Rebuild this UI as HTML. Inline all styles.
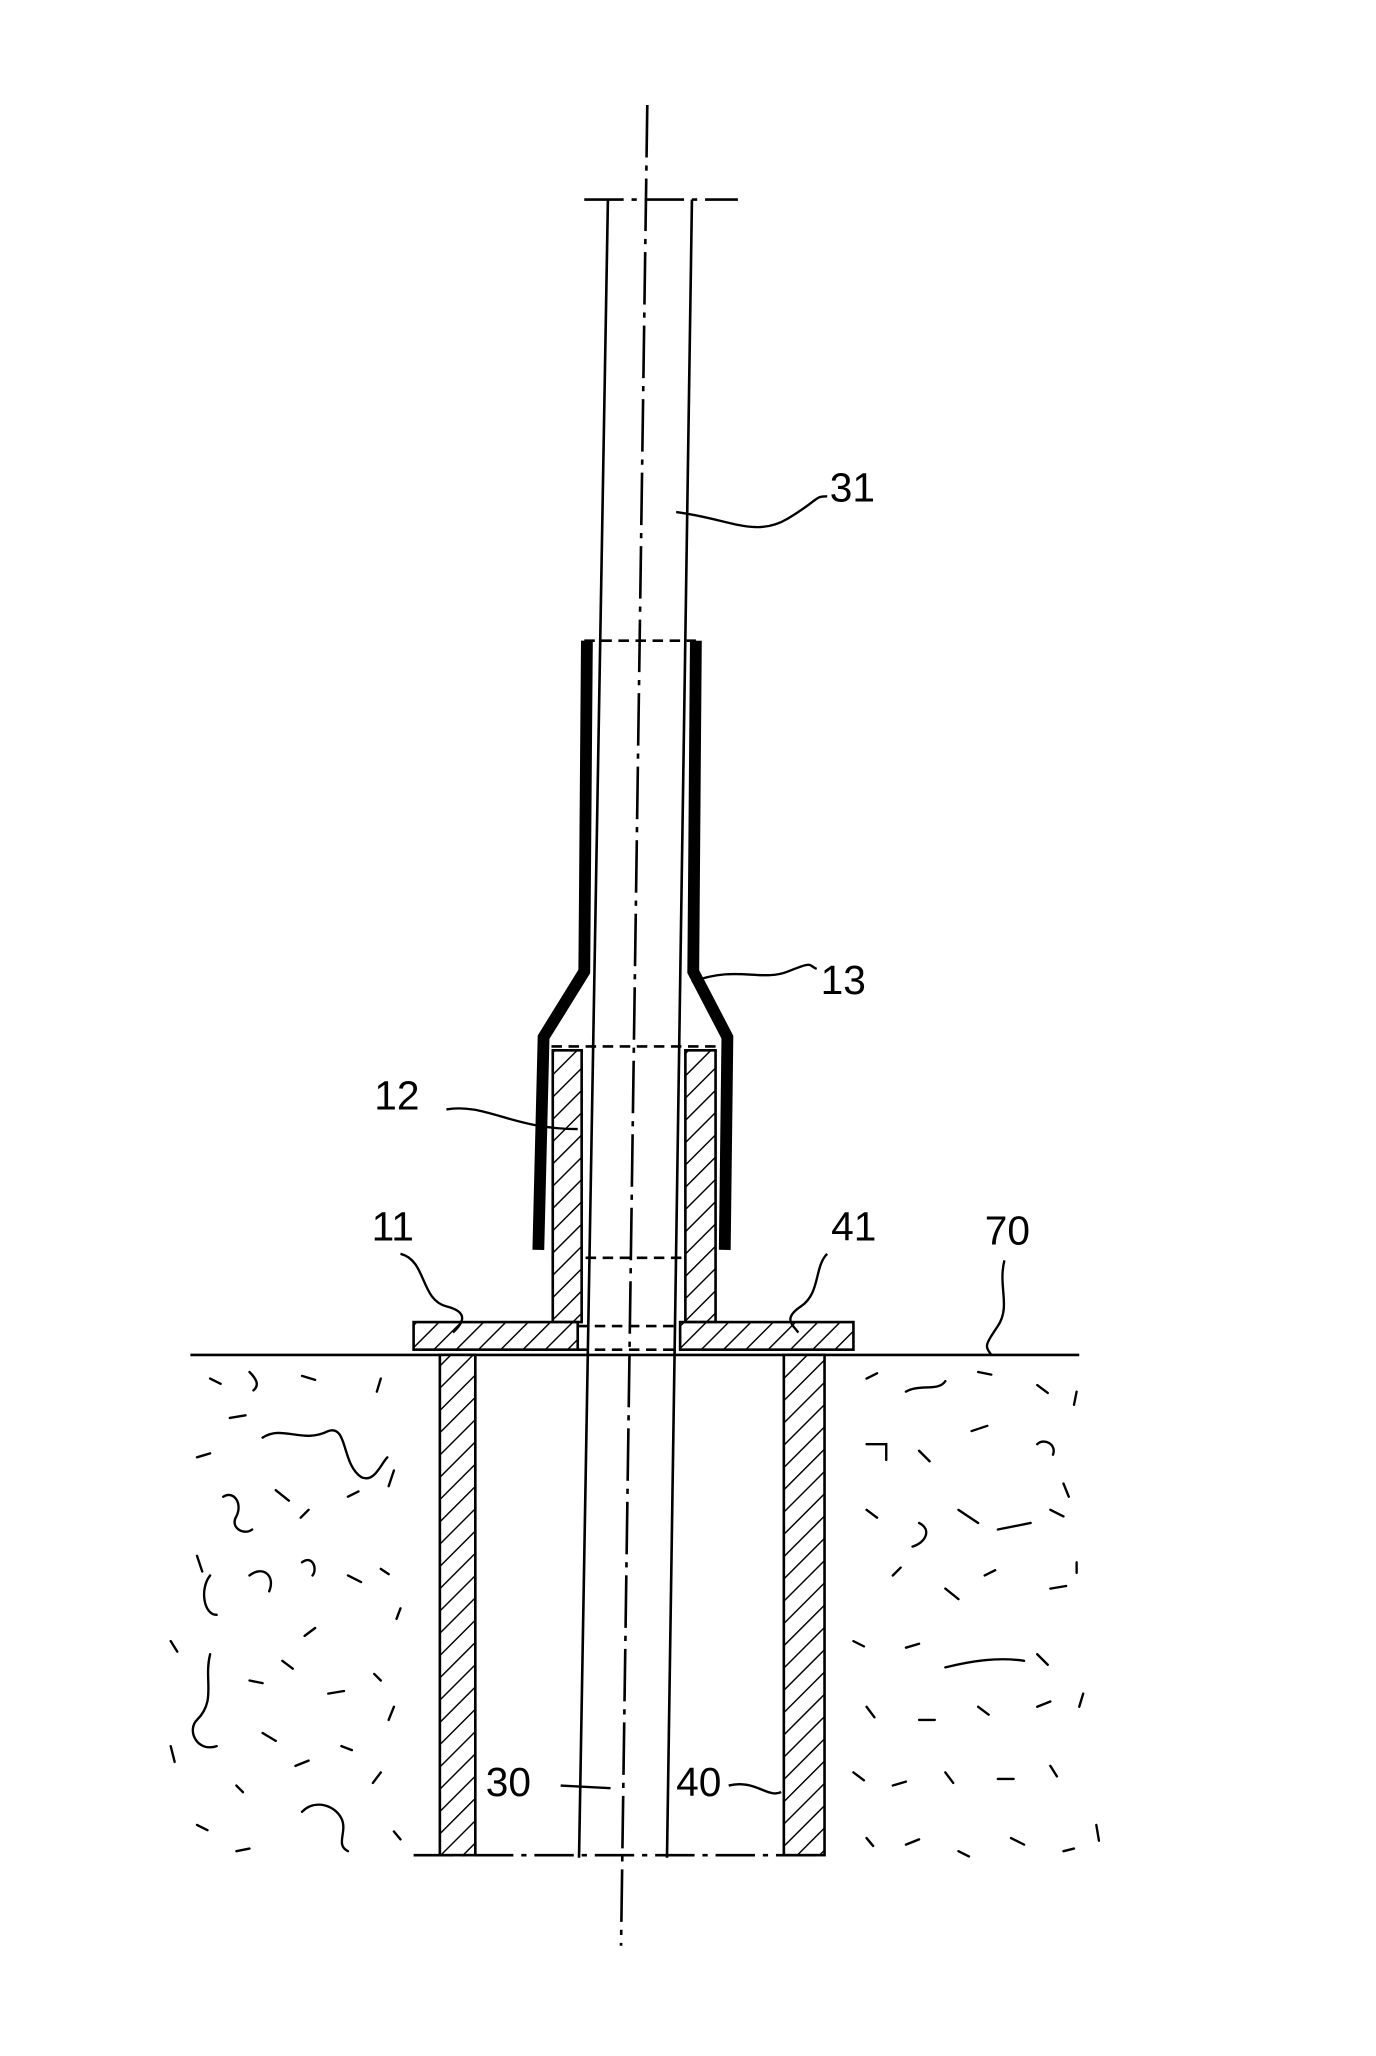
<!DOCTYPE html>
<html><head><meta charset="utf-8"><style>
html,body{margin:0;padding:0;background:#fff;}
svg{display:block;}
text{font-family:"Liberation Sans",sans-serif;font-size:31px;fill:#000;}
</style></head><body>
<svg width="1376" height="2056" viewBox="0 0 1048 1566" xmlns="http://www.w3.org/2000/svg">
<defs>
<pattern id="h" patternUnits="userSpaceOnUse" width="12" height="12" patternTransform="rotate(45)">
<rect width="12" height="12" fill="#fff"/><line x1="0" y1="0" x2="0" y2="12" stroke="#000" stroke-width="2.2"/>
</pattern>
</defs>
<g fill="none" stroke="#000" stroke-width="2">
<line x1="493" y1="80" x2="473" y2="1482" stroke-dasharray="40,6,4,6"/>
<line x1="445" y1="152" x2="562" y2="152" stroke-dasharray="30,6,4,6"/>
<line x1="463" y1="152" x2="441" y2="1415"/>
<line x1="527" y1="152" x2="508" y2="1415"/>
<line x1="445" y1="488" x2="530" y2="488" stroke-dasharray="8,5"/>
<line x1="420" y1="797" x2="545" y2="797" stroke-dasharray="8,5"/>
<line x1="420" y1="958" x2="545" y2="958" stroke-dasharray="8,5"/>
<line x1="440" y1="1010" x2="520" y2="1010" stroke-dasharray="8,5"/>
<line x1="440" y1="1028" x2="520" y2="1028" stroke-dasharray="8,5"/>
<line x1="145" y1="1032" x2="822" y2="1032"/>
<line x1="315" y1="1413" x2="622" y2="1413" stroke-dasharray="30,6,4,6"/>
</g>
<g fill="none" stroke="#000" stroke-width="9" stroke-linejoin="miter">
<polyline points="447,488 445,740 414,790 410,952"/>
<polyline points="530,488 528,740 554,790 552,952"/>
</g>
<g stroke="#000" stroke-width="2" fill="url(#h)">
<rect x="421" y="800" width="22" height="207"/>
<rect x="522" y="800" width="23" height="207"/>
<rect x="315" y="1007" width="125" height="21"/>
<rect x="518" y="1007" width="132" height="21"/>
<rect x="335" y="1032" width="27" height="381"/>
<rect x="597" y="1032" width="31" height="381"/>
</g>
<g fill="none" stroke="#000" stroke-width="1.8">
<path d="M515,390 C555,395 575,410 600,395 S620,378 630,378"/>
<path d="M527,748 C560,735 580,748 600,740 S615,735 622,738"/>
<path d="M340,845 C370,840 390,860 440,860"/>
<path d="M305,955 C325,960 320,990 340,995 S350,1010 345,1015"/>
<path d="M630,955 C620,965 625,985 610,995 S605,1010 608,1015"/>
<path d="M765,960 C760,980 770,995 760,1010 S750,1025 755,1032"/>
<path d="M427,1360 L465,1362"/>
<path d="M555,1360 C575,1355 585,1370 595,1365"/>
</g>
<text x="632" y="382">31</text>
<text x="625" y="757">13</text>
<text x="285" y="845">12</text>
<text x="283" y="945">11</text>
<text x="633" y="945">41</text>
<text x="750" y="948">70</text>
<text x="370" y="1368">30</text>
<text x="515" y="1368">40</text>
<g fill="none" stroke="#000" stroke-width="1.8" stroke-linecap="round">
<path d="M160,1050 l8,4 M190,1045 c5,5 8,10 3,14 M230,1048 l10,3 M290,1050 l-3,10 M175,1080 l12,-2 M200,1095 c15,-10 30,5 50,-5 c15,-5 10,25 25,35 c10,5 15,-10 20,-15"/>
<path d="M150,1110 l10,-3 M170,1140 c8,-5 15,5 10,15 c-5,8 5,15 12,10 M210,1135 l10,8 M235,1150 l-6,6 M265,1140 l8,-4 M300,1120 l-4,12 M150,1185 l4,12"/>
<path d="M160,1200 c-8,10 -5,30 5,30 M190,1200 c10,-8 20,0 15,12 M230,1190 c8,-6 12,5 8,10 M265,1200 l10,5 M290,1195 l6,4 M305,1225 l-3,8 M240,1240 l-8,6"/>
<path d="M130,1250 l5,8 M160,1260 c-5,20 5,35 -10,50 c-8,8 0,25 15,20 M190,1280 l10,2 M215,1265 l8,6 M250,1290 l12,-2 M285,1275 l5,5 M300,1300 l-4,10"/>
<path d="M130,1330 l3,12 M200,1320 l10,6 M225,1345 l10,-4 M260,1330 l8,3 M290,1350 l-6,8 M180,1360 l5,5 M230,1380 c10,-10 25,-5 30,5 c5,10 -5,20 5,25 M150,1390 l8,4 M180,1410 l10,-2 M300,1395 l5,6"/>
<path d="M660,1050 l8,-4 M690,1060 c10,-6 25,0 30,-8 M745,1045 l10,2 M790,1055 l8,6 M820,1060 l-2,10 M660,1100 l15,0 l0,12 M700,1105 l8,8 M740,1090 l12,-4 M790,1100 c5,-5 15,0 12,8 M810,1130 l4,10"/>
<path d="M660,1150 l8,6 M700,1160 c10,5 5,15 -5,18 M730,1150 l15,10 M760,1165 l25,-5 M800,1150 l10,5 M680,1200 l6,-6 M720,1210 l10,8 M750,1200 l8,-4 M800,1210 l12,-2 M820,1190 l0,8"/>
<path d="M650,1250 l8,4 M690,1255 l10,-3 M720,1270 c20,-5 40,-8 60,-5 M790,1260 l8,8 M660,1300 l6,8 M700,1310 l12,0 M745,1300 l8,6 M790,1300 l10,-4 M825,1290 l-3,10"/>
<path d="M650,1350 l8,6 M680,1360 l10,-3 M720,1350 l6,8 M760,1355 l12,0 M800,1345 l5,8 M690,1405 l10,-4 M730,1410 l8,4 M770,1400 l10,5 M810,1410 l8,-2 M835,1390 l2,12 M660,1400 l5,6"/>
</g>
</svg>
</body></html>
